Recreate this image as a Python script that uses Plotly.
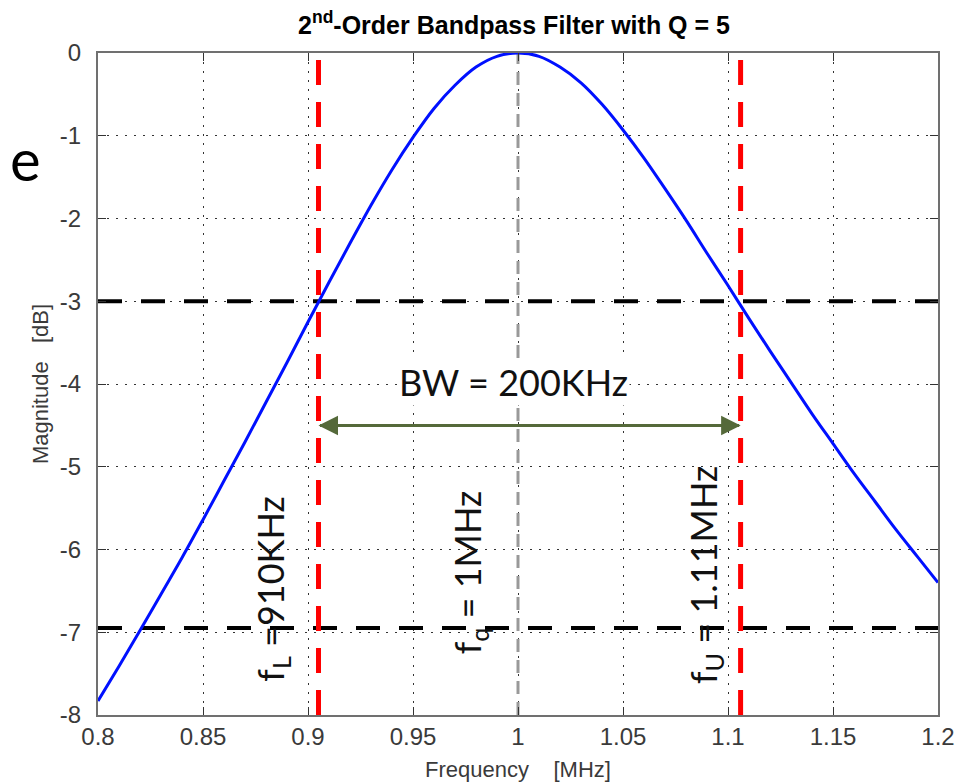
import plotly.graph_objects as go

# Frequency response values
freq_mhz = [0.80, 0.81, 0.82, 0.83, 0.84, 0.85, 0.86, 0.87, 0.88, 0.89,
            0.90, 0.91, 0.92, 0.93, 0.94, 0.95, 0.96, 0.97, 0.98, 0.99,
            1.00, 1.01, 1.02, 1.03, 1.04, 1.05, 1.06, 1.07, 1.08, 1.09,
            1.10, 1.11, 1.12, 1.13, 1.14, 1.15, 1.16, 1.17, 1.18, 1.19, 1.20]
mag_db = [-7.83, -7.41, -6.98, -6.54, -6.10, -5.64, -5.17, -4.70, -4.22, -3.74,
          -3.25, -2.77, -2.30, -1.84, -1.41, -1.02, -0.67, -0.39, -0.17, -0.04,
          0.00, -0.04, -0.17, -0.36, -0.62, -0.93, -1.27, -1.64, -2.02, -2.42,
          -2.81, -3.21, -3.60, -3.98, -4.36, -4.72, -5.08, -5.42, -5.76, -6.08, -6.40]

x_range = [0.8, 1.2]
y_range = [-8, 0]
x_ticks = [0.8, 0.85, 0.9, 0.95, 1.0, 1.05, 1.1, 1.15, 1.2]
x_tick_labels = ["0.8", "0.85", "0.9", "0.95", "1", "1.05", "1.1", "1.15", "1.2"]
y_ticks = [-8, -7, -6, -5, -4, -3, -2, -1, 0]
y_tick_labels = ["-8", "-7", "-6", "-5", "-4", "-3", "-2", "-1", "0"]

f_low = 0.905
f_center = 1.0
f_up = 1.106
level_3db = -3
level_low = -6.95
bw_level = -4.5

labels = {
    "bw": "BW = 200KHz",
    "fl": "f<sub>L</sub> =910KHz",
    "fq": "f<sub>q</sub> = 1MHz",
    "fu": "f<sub>U</sub> = 1.11MHz",
}

axis_family = "Liberation Sans Narrow, Liberation Sans, Arial"
tick_font = dict(family=axis_family, size=24, color="#3a3a3a")
title_font_axis = dict(family=axis_family, size=22, color="#3a3a3a")
note_font = dict(family="Lato, Open Sans, sans-serif", size=36, color="#111111")
green = "#55693a"

fig = go.Figure()

# reference lines
fig.add_trace(go.Scatter(x=x_range, y=[level_3db, level_3db], mode="lines",
                         line=dict(color="black", width=4, dash="24px,19px"), hoverinfo="skip"))
fig.add_trace(go.Scatter(x=x_range, y=[level_low, level_low], mode="lines",
                         line=dict(color="black", width=4, dash="24px,19px"), hoverinfo="skip"))
fig.add_trace(go.Scatter(x=[f_center, f_center], y=y_range, mode="lines",
                         line=dict(color="#999999", width=3, dash="13px,8px"), hoverinfo="skip"))

# response curve
fig.add_trace(go.Scatter(x=freq_mhz, y=mag_db, mode="lines", line_shape="spline",
                         line=dict(color="#0010ff", width=3)))

# red band edges
for f in (f_low, f_up):
    fig.add_trace(go.Scatter(x=[f, f], y=y_range, mode="lines",
                             line=dict(color="#ff0000", width=5, dash="25px,17px"), hoverinfo="skip"))

# bandwidth arrow (two heads)
fig.add_annotation(x=f_low, y=bw_level, ax=f_up, ay=bw_level, xref="x", yref="y",
                   axref="x", ayref="y", showarrow=True, arrowhead=2, arrowsize=1.3,
                   arrowwidth=3, arrowcolor=green, text="")
fig.add_annotation(x=f_up, y=bw_level, ax=f_low, ay=bw_level, xref="x", yref="y",
                   axref="x", ayref="y", showarrow=True, arrowhead=2, arrowsize=1.3,
                   arrowwidth=3, arrowcolor=green, text="")

fig.add_annotation(x=0.998, y=-3.98, xref="x", yref="y", text=labels["bw"], showarrow=False,
                   font=note_font, bgcolor="white", textangle=0)
fig.add_annotation(x=0.883, y=-6.47, xref="x", yref="y", text=labels["fl"], showarrow=False,
                   font=note_font, textangle=-90)
fig.add_annotation(x=0.977, y=-6.28, xref="x", yref="y", text=labels["fq"], showarrow=False,
                   font=note_font, textangle=-90)
fig.add_annotation(x=1.089, y=-6.31, xref="x", yref="y", text=labels["fu"], showarrow=False,
                   font=note_font, textangle=-90)

# stray slide letter at left edge
fig.add_annotation(x=-90 / 840, y=0.84, xref="paper", yref="paper", xanchor="left",
                   yanchor="middle", text="e", showarrow=False, textangle=0,
                   font=dict(family="Lato, Open Sans, sans-serif", size=58, color="black"))

# page has an 8px body margin, so the figure is 958x776 and offsets are reduced by 8
fig.update_layout(
    width=958, height=776,
    margin=dict(l=90, r=28, t=45, b=69),
    paper_bgcolor="white", plot_bgcolor="white",
    showlegend=False,
    title=dict(text="<b>2<sup>nd</sup>-Order Bandpass Filter with Q = 5</b>",
               x=506 / 958, xanchor="center", y=1 - 17 / 776, yanchor="middle",
               font=dict(family=axis_family, size=25, color="black")),
)
fig.update_xaxes(range=x_range, tickvals=x_ticks, ticktext=x_tick_labels,
                 showgrid=True, gridcolor="#333333", griddash="2px,7px", gridwidth=1,
                 showline=True, linecolor="#707070", linewidth=2, mirror="ticks",
                 ticks="inside", ticklen=8, tickcolor="#333333", tickfont=tick_font,
                 ticklabelstandoff=-1, zeroline=False, automargin=False,
                 title=dict(text="Frequency\u00a0\u00a0\u00a0\u00a0[MHz]", font=title_font_axis, standoff=13))
fig.update_yaxes(range=y_range, tickvals=y_ticks, ticktext=y_tick_labels,
                 showgrid=True, gridcolor="#333333", griddash="2px,7px", gridwidth=1,
                 showline=True, linecolor="#707070", linewidth=2, mirror="ticks",
                 ticks="inside", ticklen=8, tickcolor="#333333", tickfont=tick_font,
                 ticklabelstandoff=10, zeroline=False, automargin=False,
                 title=dict(text="Magnitude\u00a0\u00a0\u00a0[dB]", font=title_font_axis, standoff=5))

fig.write_html("out.html")
